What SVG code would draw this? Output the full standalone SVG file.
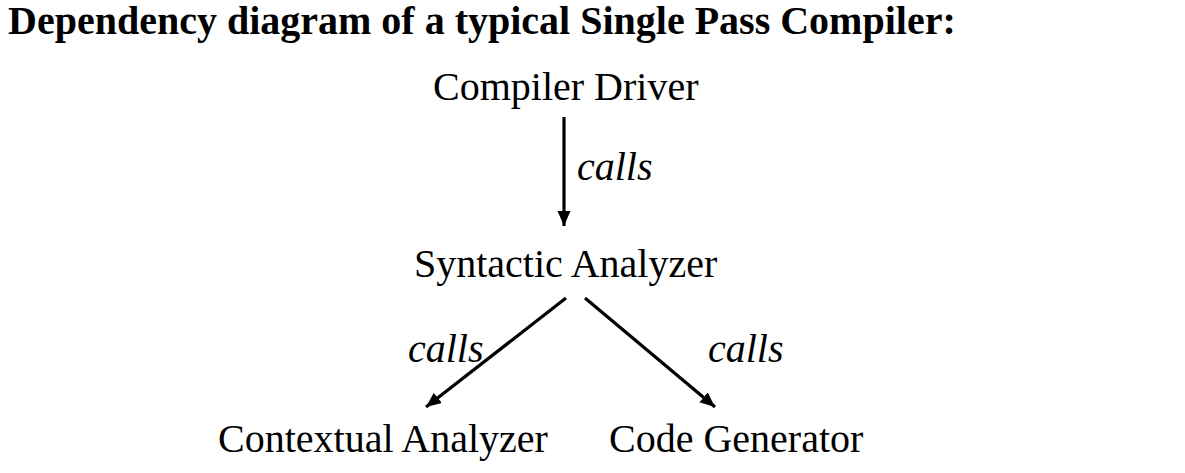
<svg xmlns="http://www.w3.org/2000/svg" width="1185" height="473" viewBox="0 0 1185 473">
<style>
text{font-family:"Liberation Serif","Times New Roman",serif;font-size:40px;fill:#000}
.title{font-weight:bold}
.lbl{font-style:italic}
.edge{stroke:#000;stroke-width:3.2;fill:none}
</style>
<defs>
<marker id="ah" markerUnits="userSpaceOnUse" markerWidth="18" markerHeight="14" refX="15" refY="6.5" orient="auto">
<path d="M0,0 L15,6.5 L0,13 Z" fill="#000"/>
</marker>
</defs>
<rect width="1185" height="473" fill="#fff"/>
<text class="title" x="8" y="34">Dependency diagram of a typical Single Pass Compiler:</text>
<g id="connectors">
<line class="edge" x1="564" y1="117" x2="564" y2="226" marker-end="url(#ah)"/>
<line class="edge" x1="566" y1="298" x2="426" y2="407" marker-end="url(#ah)"/>
<line class="edge" x1="585" y1="298" x2="715" y2="407" marker-end="url(#ah)"/>
<text class="lbl" x="577" y="180">calls</text>
<text class="lbl" x="408" y="362">calls</text>
<text class="lbl" x="708" y="362">calls</text>
</g>
<g id="compiler-driver"><text x="433" y="100">Compiler Driver</text></g>
<g id="syntactic-analyzer"><text x="414" y="277">Syntactic Analyzer</text></g>
<g id="contextual-analyzer"><text x="218" y="452">Contextual Analyzer</text></g>
<g id="code-generator"><text x="609" y="452">Code Generator</text></g>
</svg>
